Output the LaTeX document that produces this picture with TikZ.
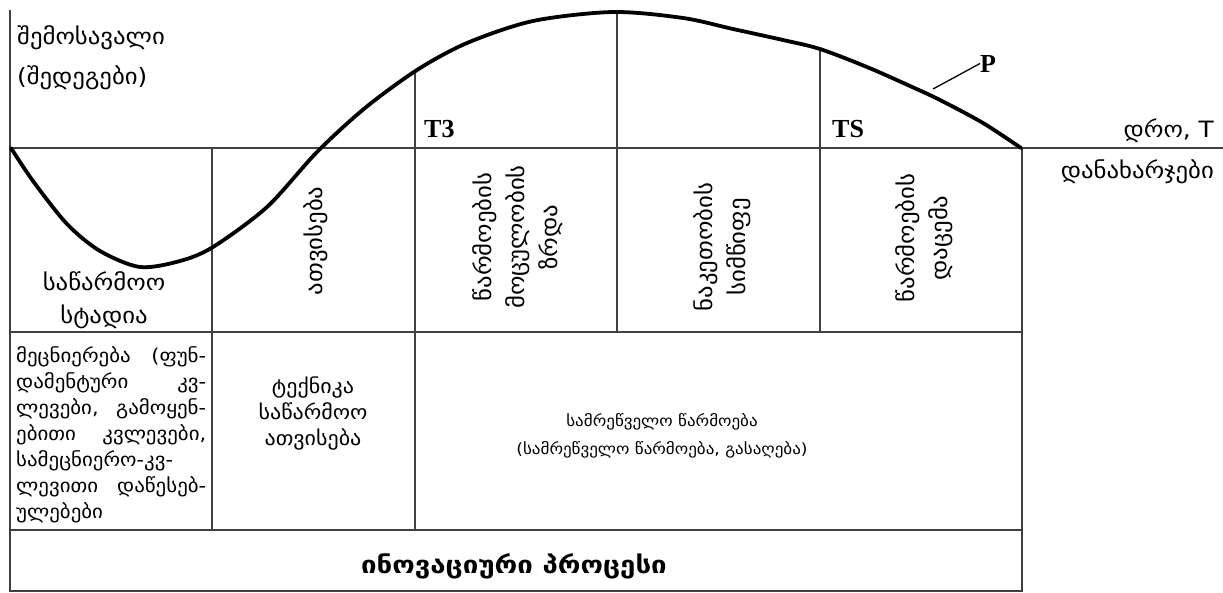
\documentclass[tikz,border=0pt]{standalone}
\usepackage{fontspec}
\setmainfont{Liberation Serif}
\newfontfamily\geo[FakeStretch=1.1]{DejaVu Sans}
\newfontfamily\geowide[FakeStretch=1.15]{DejaVu Sans}
\begin{document}
\begin{tikzpicture}[x=1pt,y=-1pt,
  gl/.style={line width=1.6pt, draw=black!75},
  gtxt/.style={font=\geo\fontsize{22.5}{33}\selectfont, align=center, inner sep=0pt},
  stxt/.style={font=\geo\fontsize{19}{26}\selectfont, inner sep=0pt},
  lbl/.style={font=\bfseries\fontsize{26}{26}\selectfont, inner sep=0pt},
  curve/.style={line width=3.8pt, line cap=round, line join=round}]
\useasboundingbox (0,0) rectangle (1223,592);
% grid
\draw[gl, line width=2.2pt] (10,10) -- (10,592);
\draw[gl] (10,148) -- (1223,148);
\draw[gl] (10,332) -- (1022,332);
\draw[gl, line width=2.8pt] (10,530) -- (1022,530);
\draw[gl] (10,591) -- (1022,591);
\draw[gl] (212,148) -- (212,530);
\draw[gl] (415,72) -- (415,530);
\draw[gl] (617,12) -- (617,332);
\draw[gl] (820,49) -- (820,332);
\draw[gl] (1022,148) -- (1022,592);
% curve
\draw[curve] plot[smooth, tension=0.5] coordinates {(11,148) (33,181) (67,224) (100,251) (140,267) (180,261) (213,247) (267,207) (317,152) (365,108) (417,70) (467,43) (533,21) (613,12) (683,18) (733,29) (783,40) (820,49) (867,67) (910,86) (940,100) (983,123) (1021,148)};
\coordinate (ptip) at (933,89);
% labels
\node[gtxt, anchor=base west] (inc1) at (17,44) {შემოსავალი};
\node[gtxt, anchor=base west] (inc2) at (17,84) {(შედეგები)};
\node[lbl, anchor=base west] (t3) at (424,137) {T3};
\node[lbl, anchor=base west] (ts) at (832,137) {TS};
\node[lbl, anchor=base west] (p) at (980,72) {P};
\draw[line width=1.3pt] (ptip) -- (p.west);
\node[gtxt, anchor=base east] (time) at (1214,137) {{\geo დრო,} T};
\node[gtxt, anchor=base east] (cost) at (1214,178) {დანახარჯები};
% row 2
\node[gtxt] (stage) at (104,300) {საწარმოო\\სტადია};
\node[gtxt, rotate=90] (mast) at (316,241) {ათვისება};
\node[gtxt, rotate=90] (grow) at (518,237) {წარმოების\\მოცულობის\\ზრდა};
\node[gtxt, rotate=90] (mat) at (722,247) {ნაკეთობის\\სიმწიფე};
\node[gtxt, rotate=90] (dec) at (924,238) {წარმოების\\დაცემა};
% row 3
\node[stxt, anchor=north west, text width=190pt, align=left] (sci) at (16,346) {მეცნიერება\hfill(ფუნ-\\დამენტური\hfill კვ-\\ლევები,\hfill გამოყენ-\\ებითი\hfill კვლევები,\\სამეცნიერო-კვ-\\ლევითი\hfill დაწესებ-\\ულებები};
\node[stxt, font=\geo\fontsize{20}{26}\selectfont, align=center] (tech) at (313,414) {ტექნიკა\\საწარმოო\\ათვისება};
\node[stxt, font=\geo\fontsize{15.5}{28}\selectfont, align=center] (ind) at (662,436) {სამრეწველო წარმოება\\(სამრეწველო წარმოება, გასაღება)};
% row 4
\node[font=\geowide\bfseries\fontsize{24}{24}\selectfont, inner sep=0pt, anchor=base] (proc) at (514,573) {ინოვაციური პროცესი};
\end{tikzpicture}
\end{document}
